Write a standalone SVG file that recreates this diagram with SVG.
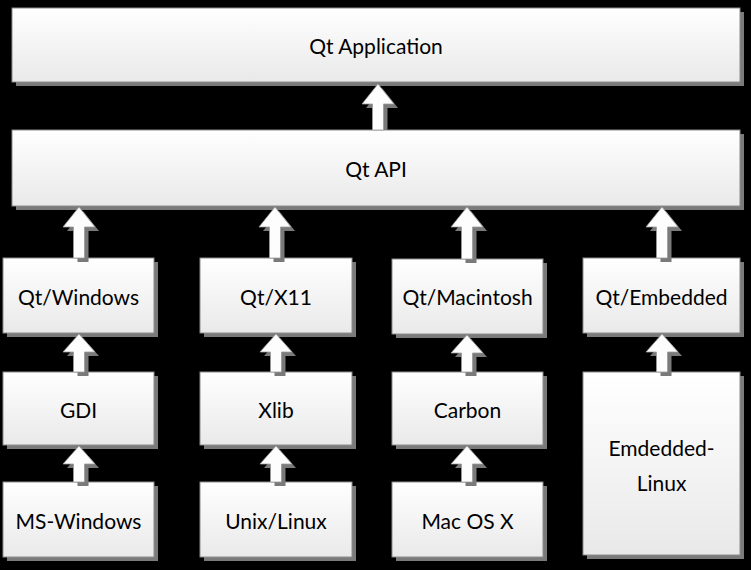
<svg xmlns="http://www.w3.org/2000/svg" width="751" height="570" viewBox="0 0 751 570">
<defs>
<linearGradient id="g" x1="0" y1="0" x2="0" y2="1">
<stop offset="0" stop-color="#ffffff"/>
<stop offset="1" stop-color="#e9e9e9"/>
</linearGradient>
<path id="arr" d="M0,0 L16,20 L5.5,20 L5.5,1 L-5.5,1 L-5.5,20 L-16,20 Z"/>
</defs>
<style>
.sh{fill:#7a7a7a}
.bx{fill:url(#g);stroke:#8c8c8c;stroke-width:1}
.t{font-family:Lato,"Open Sans",sans-serif;font-size:21px;fill:#000;text-anchor:middle;dominant-baseline:central}
.ash{fill:#7a7a7a}
.aw{fill:#fdfdfd;stroke:#9a9a9a;stroke-width:0.8}
</style>
<rect width="751" height="570" fill="#000"/>

<g id="qtapp">
<rect class="sh" x="16" y="12" width="728" height="74"/>
<rect class="bx" x="12" y="8" width="728" height="74"/>
<text class="t" x="376" y="45">Qt Application</text>
</g>
<g id="qtapi">
<rect class="sh" x="16" y="134" width="728" height="76"/>
<rect class="bx" x="12" y="130" width="728" height="76"/>
<text class="t" x="376" y="168">Qt API</text>
</g>

<g id="qtwindows">
<rect class="sh" x="7" y="262" width="151" height="75"/>
<rect class="bx" x="3" y="258" width="151" height="75"/>
<text class="t" x="78.5" y="296">Qt/Windows</text>
</g>
<g id="qtx11">
<rect class="sh" x="204" y="262" width="152" height="75"/>
<rect class="bx" x="200" y="258" width="152" height="75"/>
<text class="t" x="276" y="296">Qt/X11</text>
</g>
<g id="qtmac">
<rect class="sh" x="396" y="263" width="151" height="75"/>
<rect class="bx" x="392" y="259" width="151" height="75"/>
<text class="t" x="467.5" y="296">Qt/Macintosh</text>
</g>
<g id="qtembedded">
<rect class="sh" x="587" y="262" width="157" height="75"/>
<rect class="bx" x="583" y="258" width="157" height="75"/>
<text class="t" x="661.5" y="296">Qt/Embedded</text>
</g>

<g id="gdi">
<rect class="sh" x="7" y="376" width="151" height="73"/>
<rect class="bx" x="3" y="372" width="151" height="73"/>
<text class="t" x="78.5" y="409">GDI</text>
</g>
<g id="xlib">
<rect class="sh" x="204" y="376" width="152" height="73"/>
<rect class="bx" x="200" y="372" width="152" height="73"/>
<text class="t" x="276" y="409">Xlib</text>
</g>
<g id="carbon">
<rect class="sh" x="396" y="376" width="151" height="73"/>
<rect class="bx" x="392" y="372" width="151" height="73"/>
<text class="t" x="467.5" y="409">Carbon</text>
</g>
<g id="emlinux">
<rect class="sh" x="587" y="376" width="157" height="183"/>
<rect class="bx" x="583" y="372" width="157" height="183"/>
<text class="t" x="661.5" y="447">Emdedded-</text>
<text class="t" x="661.5" y="482">Linux</text>
</g>

<g id="mswindows">
<rect class="sh" x="7" y="486" width="151" height="75"/>
<rect class="bx" x="3" y="482" width="151" height="75"/>
<text class="t" x="78.5" y="520">MS-Windows</text>
</g>
<g id="unixlinux">
<rect class="sh" x="204" y="486" width="152" height="75"/>
<rect class="bx" x="200" y="482" width="152" height="75"/>
<text class="t" x="276" y="520">Unix/Linux</text>
</g>
<g id="macosx">
<rect class="sh" x="396" y="486" width="151" height="75"/>
<rect class="bx" x="392" y="482" width="151" height="75"/>
<text class="t" x="467.5" y="520">Mac OS X</text>
</g>

<g id="connectors">
<path class="ash" d="M382,88 L398,108 L387.5,108 L387.5,130 L376.5,130 L376.5,108 L366,108 Z"/>
<path class="aw" d="M378,84 L394,104 L383.5,104 L383.5,130 L372.5,130 L372.5,104 L362,104 Z"/>

<path class="ash" d="M83,211 L99,231 L88.5,231 L88.5,262 L77.5,262 L77.5,231 L67,231 Z"/>
<path class="aw" d="M79,207 L95,227 L84.5,227 L84.5,258 L73.5,258 L73.5,227 L63,227 Z"/>
<path class="ash" d="M279,211 L295,231 L284.5,231 L284.5,262 L273.5,262 L273.5,231 L263,231 Z"/>
<path class="aw" d="M275,207 L291,227 L280.5,227 L280.5,258 L269.5,258 L269.5,227 L259,227 Z"/>
<path class="ash" d="M471,211 L487,231 L476.5,231 L476.5,263 L465.5,263 L465.5,231 L455,231 Z"/>
<path class="aw" d="M467,207 L483,227 L472.5,227 L472.5,259 L461.5,259 L461.5,227 L451,227 Z"/>
<path class="ash" d="M666,211 L682,231 L671.5,231 L671.5,262 L660.5,262 L660.5,231 L650,231 Z"/>
<path class="aw" d="M662,207 L678,227 L667.5,227 L667.5,258 L656.5,258 L656.5,227 L646,227 Z"/>

<path class="ash" d="M83,338 L99,356 L88.5,356 L88.5,376 L77.5,376 L77.5,356 L67,356 Z"/>
<path class="aw" d="M79,334 L95,352 L84.5,352 L84.5,372 L73.5,372 L73.5,352 L63,352 Z"/>
<path class="ash" d="M280,338 L296,356 L285.5,356 L285.5,376 L274.5,376 L274.5,356 L264,356 Z"/>
<path class="aw" d="M276,334 L292,352 L281.5,352 L281.5,372 L270.5,372 L270.5,352 L260,352 Z"/>
<path class="ash" d="M471,339 L487,357 L476.5,357 L476.5,376 L465.5,376 L465.5,357 L455,357 Z"/>
<path class="aw" d="M467,335 L483,353 L472.5,353 L472.5,372 L461.5,372 L461.5,353 L451,353 Z"/>
<path class="ash" d="M666,338 L682,356 L671.5,356 L671.5,376 L660.5,376 L660.5,356 L650,356 Z"/>
<path class="aw" d="M662,334 L678,352 L667.5,352 L667.5,372 L656.5,372 L656.5,352 L646,352 Z"/>

<path class="ash" d="M83,450 L99,468 L88.5,468 L88.5,486 L77.5,486 L77.5,468 L67,468 Z"/>
<path class="aw" d="M79,446 L95,464 L84.5,464 L84.5,482 L73.5,482 L73.5,464 L63,464 Z"/>
<path class="ash" d="M280,450 L296,468 L285.5,468 L285.5,486 L274.5,486 L274.5,468 L264,468 Z"/>
<path class="aw" d="M276,446 L292,464 L281.5,464 L281.5,482 L270.5,482 L270.5,464 L260,464 Z"/>
<path class="ash" d="M471,450 L487,468 L476.5,468 L476.5,486 L465.5,486 L465.5,468 L455,468 Z"/>
<path class="aw" d="M467,446 L483,464 L472.5,464 L472.5,482 L461.5,482 L461.5,464 L451,464 Z"/>
</g>
</svg>
